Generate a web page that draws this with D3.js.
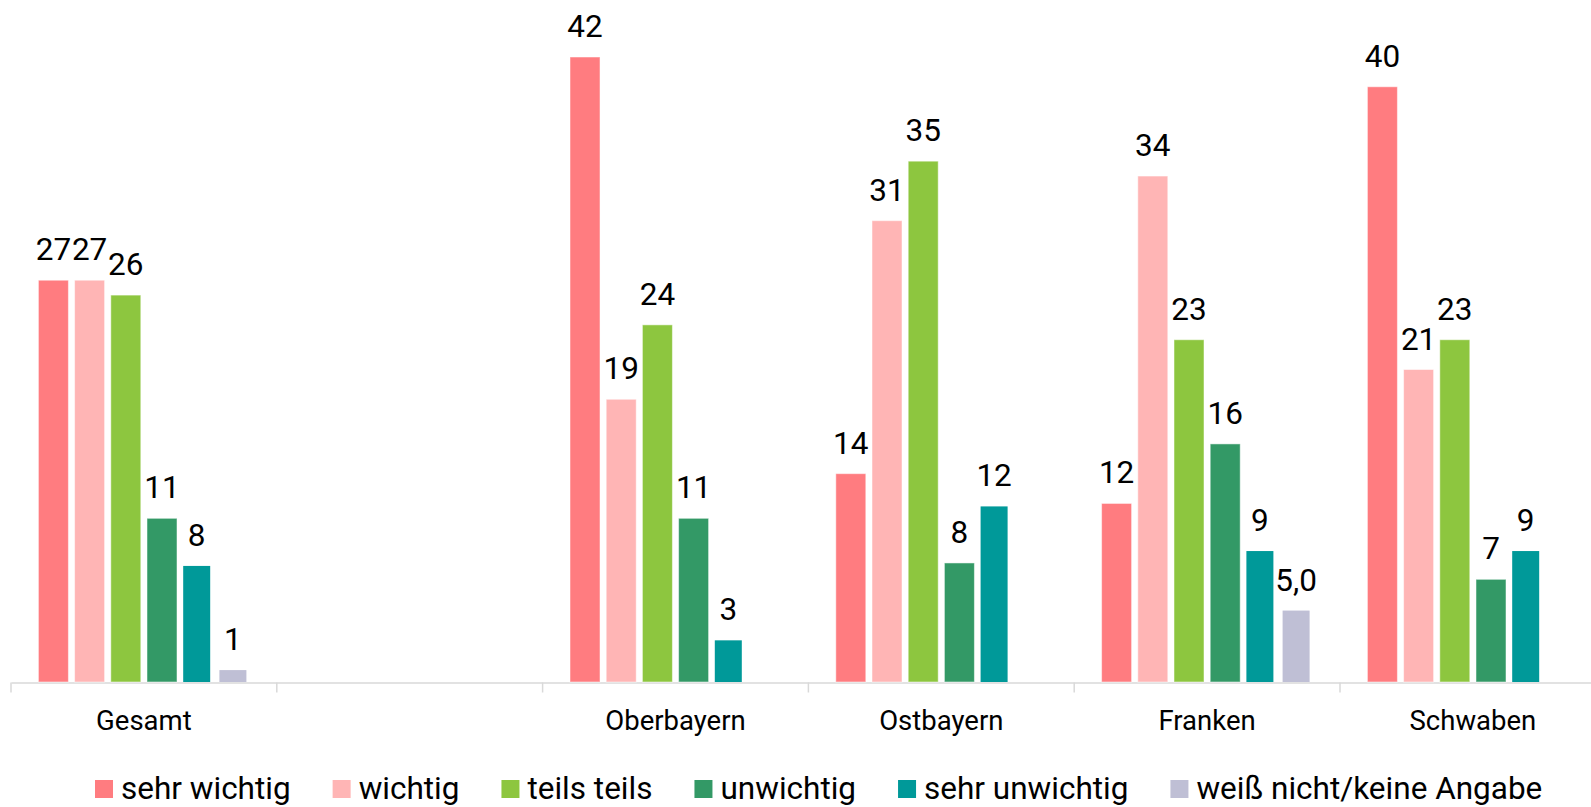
<!DOCTYPE html>
<html>
<head>
<meta charset="utf-8">
<script src="https://cdn.jsdelivr.net/npm/d3@7"></script>
<style>
  body { margin: 0; background: #fff; }
  svg { display: block; font-family: Roboto, "Noto Sans", sans-serif; }
</style>
</head>
<body>
<script>
// chart data
const categories = ["Gesamt", "", "Oberbayern", "Ostbayern", "Franken", "Schwaben"];
const series = [
  "sehr wichtig",
  "wichtig",
  "teils teils",
  "unwichtig",
  "sehr unwichtig",
  "weiß nicht/keine Angabe",
];
const sehrWichtig = [27, null, 42, 14, 12, 40];
const wichtig = [27, null, 19, 31, 34, 21];
const teilsTeils = [26, null, 24, 35, 23, 23];
const unwichtig = [11, null, 11, 8, 16, 6.9];
const sehrUnwichtig = [7.8, null, 2.8, 11.8, 8.8, 8.8];
const weissNicht = [0.8, null, null, null, 4.8, null];
const valueLabels = [
  ["27", "", "42", "14", "12", "40"],
  ["27", "", "19", "31", "34", "21"],
  ["26", "", "24", "35", "23", "23"],
  ["11", "", "11", "8", "16", "7"],
  ["8", "", "3", "12", "9", "9"],
  ["1", "", "", "", "5,0", ""],
];
const seriesValues = [sehrWichtig, wichtig, teilsTeils, unwichtig, sehrUnwichtig, weissNicht];
const colors = ["#FF7C80", "#FFB5B5", "#8DC63F", "#339966", "#009999", "#BFBFD5"];

// canvas variables
const width = 1591;
const height = 807;
const baseline = 682;
const yTop = 57;
const yMax = 42;
const bandWidth = 265.8;
const left = 11;

const svg = d3
  .select("body")
  .append("svg")
  .attr("width", width)
  .attr("height", height);

// scales
const x0 = d3
  .scaleBand()
  .domain(categories)
  .range([left, left + bandWidth * categories.length])
  .padding(0);

const x1 = d3
  .scaleBand()
  .domain(series)
  .range([0, x0.bandwidth()])
  .paddingInner(0.171)
  .paddingOuter(0.757);

const yScale = d3.scaleLinear().domain([0, yMax]).range([baseline, yTop]);

const color = d3.scaleOrdinal().domain(series).range(colors);

// flatten data
const bars = [];
series.forEach((s, si) => {
  categories.forEach((c, ci) => {
    const v = seriesValues[si][ci];
    if (v != null) {
      bars.push({ series: s, si: si, category: c, value: v, label: valueLabels[si][ci] });
    }
  });
});

// narrower bars without border for the last two series
const barX = (d) => x0(d.category) + x1(d.series);
const barW = (d) => (d.si >= 4 ? x1.bandwidth() - 3 : x1.bandwidth());

// x-axis
const xAxis = svg
  .append("g")
  .attr("id", "x-axis")
  .attr("transform", `translate(0, ${baseline + 0.5})`)
  .call(d3.axisBottom(x0).tickSize(0).tickSizeOuter(0));

xAxis.select(".domain").attr("stroke", "#d9d9d9").attr("stroke-width", 1.5);
xAxis
  .selectAll(".tick text")
  .attr("y", 47)
  .attr("dy", 0)
  .style("font-size", "27.5px")
  .style("fill", "#000")
  .style("font-family", "Roboto, 'Noto Sans', sans-serif");

// boundary ticks between categories
xAxis
  .selectAll(".boundary")
  .data(categories)
  .enter()
  .append("line")
  .attr("class", "boundary")
  .attr("x1", (d) => x0(d))
  .attr("x2", (d) => x0(d))
  .attr("y1", 0)
  .attr("y2", 10)
  .attr("stroke", "#d9d9d9")
  .attr("stroke-width", 1.5);

// bars
svg
  .selectAll("rect.bar")
  .data(bars)
  .enter()
  .append("rect")
  .attr("class", "bar")
  .attr("x", barX)
  .attr("width", barW)
  .attr("y", (d) => yScale(d.value))
  .attr("height", (d) => baseline - yScale(d.value))
  .attr("fill", (d) => color(d.series))
  .attr("stroke", (d) => (d.si >= 4 ? "none" : "#ffffff"))
  .attr("stroke-opacity", 0.5)
  .attr("stroke-width", 1);

// value labels
svg
  .selectAll("text.value")
  .data(bars)
  .enter()
  .append("text")
  .attr("class", "value")
  .attr("x", (d) => barX(d) + barW(d) / 2)
  .attr("y", (d) => yScale(d.value) - 20)
  .attr("text-anchor", "middle")
  .style("font-size", "31.5px")
  .style("fill", "#000")
  .text((d) => d.label);

// legend
const legend = svg.append("g").attr("id", "legend");
let lx = 95;
series.forEach((s) => {
  legend
    .append("rect")
    .attr("x", lx)
    .attr("y", 780)
    .attr("width", 18)
    .attr("height", 18)
    .attr("fill", color(s));
  const t = legend
    .append("text")
    .attr("x", lx + 26)
    .attr("y", 799)
    .style("font-size", "31.5px")
    .style("fill", "#000")
    .text(s);
  lx += 26 + t.node().getComputedTextLength() + 42;
});
</script>
</body>
</html>
